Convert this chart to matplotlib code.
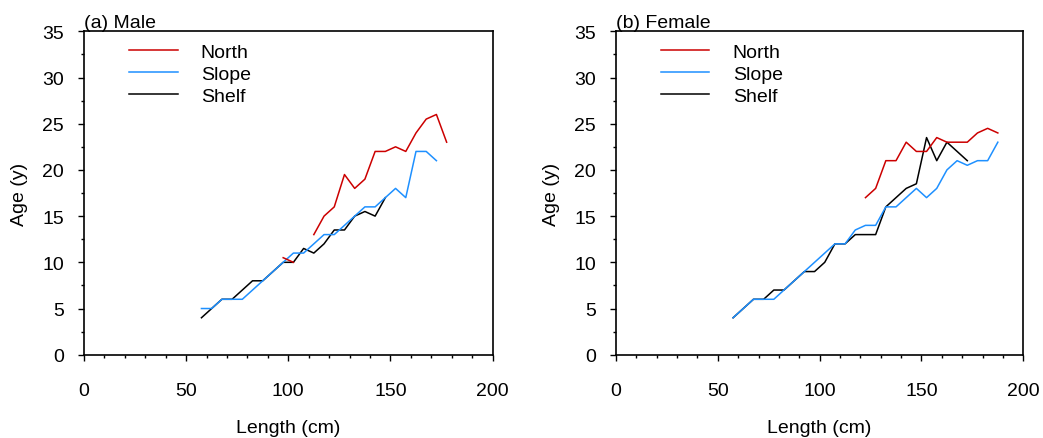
import numpy as np
import matplotlib.pyplot as plt
from matplotlib.ticker import MultipleLocator

nan = np.nan

# length-bin midpoints (cm) and mean age (y) per region
male_length = np.arange(57.5, 180, 5)
male_north = [nan, nan, nan, nan, nan, nan, nan, nan, 10.5, 10, nan, 13, 15, 16,
              19.5, 18, 19, 22, 22, 22.5, 22, 24, 25.5, 26, 23]
male_slope = [5, 5, 6, 6, 6, 7, 8, 9, 10, 11, 11, 12, 13, 13, 14, 15, 16, 16, 17,
              18, 17, 22, 22, 21, nan]
male_shelf = [4, 5, 6, 6, 7, 8, 8, 9, 10, 10, 11.5, 11, 12, 13.5, 13.5, 15, 15.5,
              15, 17, nan, nan, nan, nan, nan, nan]

female_length = np.arange(57.5, 190, 5)
female_north = [nan] * 13 + [17, 18, 21, 21, 23, 22, 22, 23.5, 23, 23, 23, 24,
                             24.5, 24]
female_slope = [4, 5, 6, 6, 6, 7, 8, 9, 10, 11, 12, 12, 13.5, 14, 14, 16, 16, 17,
                18, 17, 18, 20, 21, 20.5, 21, 21, 23]
female_shelf = [4, 5, 6, 6, 7, 7, 8, 9, 9, 10, 12, 12, 13, 13, 13, 16, 17, 18,
                18.5, 23.5, 21, 23, 22, 21, nan, nan, nan]

panels = [
    ("(a) Male", male_length, male_north, male_slope, male_shelf),
    ("(b) Female", female_length, female_north, female_slope, female_shelf),
]

plt.rcParams["font.family"] = ["Liberation Sans", "DejaVu Sans"]
plt.rcParams["font.size"] = 14

fig = plt.figure(figsize=(10.43, 4.39), dpi=100)
ax_pos = [[0.0805, 0.1897, 0.3918, 0.7367], [0.5906, 0.1897, 0.3905, 0.7367]]

for pos, (title, length, north, slope, shelf) in zip(ax_pos, panels):
    ax = fig.add_axes(pos)
    h_shelf, = ax.plot(length, shelf, color="black", lw=1.1, label="Shelf")
    h_slope, = ax.plot(length, slope, color="#1e90ff", lw=1.1, label="Slope")
    h_north, = ax.plot(length, north, color="#cc0000", lw=1.1, label="North")

    ax.set_xlim(0, 200)
    ax.set_ylim(0, 35)
    ax.xaxis.set_major_locator(MultipleLocator(50))
    ax.xaxis.set_minor_locator(MultipleLocator(10))
    ax.yaxis.set_major_locator(MultipleLocator(5))
    ax.yaxis.set_minor_locator(MultipleLocator(2.5))
    ax.tick_params(which="both", direction="out", top=False, right=False, width=1)
    ax.tick_params(which="major", length=4.3)
    ax.tick_params(which="minor", length=2.5)
    ax.tick_params(axis="x", which="major", pad=15)
    ax.tick_params(axis="y", which="major", pad=10)
    for sp in ax.spines.values():
        sp.set_linewidth(1.2)

    ax.set_xlabel("Length (cm)", labelpad=15)
    ax.set_ylabel("Age (y)", labelpad=10)
    ax.set_title(title, loc="left", pad=2, fontsize=14)

    ax.legend(handles=[h_north, h_slope, h_shelf], loc="upper left",
              bbox_to_anchor=(0.11, 0.962), frameon=False, borderpad=0,
              borderaxespad=0, handlelength=2.5, handletextpad=1.2,
              labelspacing=0.22)

fig.savefig("out.png", dpi=100)
